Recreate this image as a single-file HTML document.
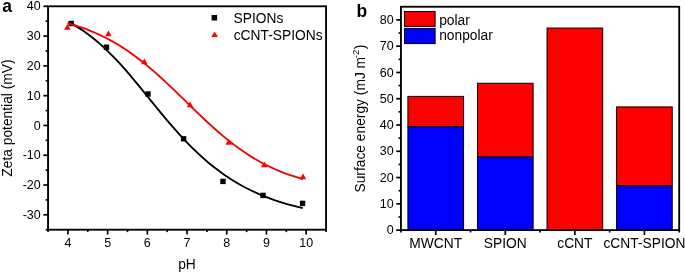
<!DOCTYPE html><html><head><meta charset="utf-8"><style>html,body{margin:0;padding:0;background:#fff;width:685px;height:273px;overflow:hidden}svg{display:block;will-change:transform}text{font-family:"Liberation Sans",sans-serif;fill:#000}</style></head><body>
<svg width="685" height="273" viewBox="0 0 685 273">
<text transform="translate(2.30,11.50) scale(1,1.04)" font-size="17.5" font-weight="bold">a</text>
<line x1="45.65" y1="229.70" x2="48.05" y2="229.70" stroke="#000" stroke-width="1.7"/>
<line x1="43.35" y1="214.81" x2="48.05" y2="214.81" stroke="#000" stroke-width="1.7"/>
<text transform="translate(40.70,218.91) scale(1,1.04)" font-size="12.5" text-anchor="end">-30</text>
<line x1="45.65" y1="199.91" x2="48.05" y2="199.91" stroke="#000" stroke-width="1.7"/>
<line x1="43.35" y1="185.02" x2="48.05" y2="185.02" stroke="#000" stroke-width="1.7"/>
<text transform="translate(40.70,189.12) scale(1,1.04)" font-size="12.5" text-anchor="end">-20</text>
<line x1="45.65" y1="170.13" x2="48.05" y2="170.13" stroke="#000" stroke-width="1.7"/>
<line x1="43.35" y1="155.23" x2="48.05" y2="155.23" stroke="#000" stroke-width="1.7"/>
<text transform="translate(40.70,159.33) scale(1,1.04)" font-size="12.5" text-anchor="end">-10</text>
<line x1="45.65" y1="140.34" x2="48.05" y2="140.34" stroke="#000" stroke-width="1.7"/>
<line x1="43.35" y1="125.45" x2="48.05" y2="125.45" stroke="#000" stroke-width="1.7"/>
<text transform="translate(40.70,129.55) scale(1,1.04)" font-size="12.5" text-anchor="end">0</text>
<line x1="45.65" y1="110.55" x2="48.05" y2="110.55" stroke="#000" stroke-width="1.7"/>
<line x1="43.35" y1="95.66" x2="48.05" y2="95.66" stroke="#000" stroke-width="1.7"/>
<text transform="translate(40.70,99.76) scale(1,1.04)" font-size="12.5" text-anchor="end">10</text>
<line x1="45.65" y1="80.77" x2="48.05" y2="80.77" stroke="#000" stroke-width="1.7"/>
<line x1="43.35" y1="65.87" x2="48.05" y2="65.87" stroke="#000" stroke-width="1.7"/>
<text transform="translate(40.70,69.97) scale(1,1.04)" font-size="12.5" text-anchor="end">20</text>
<line x1="45.65" y1="50.98" x2="48.05" y2="50.98" stroke="#000" stroke-width="1.7"/>
<line x1="43.35" y1="36.09" x2="48.05" y2="36.09" stroke="#000" stroke-width="1.7"/>
<text transform="translate(40.70,40.19) scale(1,1.04)" font-size="12.5" text-anchor="end">30</text>
<line x1="45.65" y1="21.19" x2="48.05" y2="21.19" stroke="#000" stroke-width="1.7"/>
<line x1="43.35" y1="6.30" x2="48.05" y2="6.30" stroke="#000" stroke-width="1.7"/>
<text transform="translate(40.70,10.40) scale(1,1.04)" font-size="12.5" text-anchor="end">40</text>
<line x1="48.05" y1="229.7" x2="48.05" y2="232.1" stroke="#000" stroke-width="1.7"/>
<line x1="67.91" y1="229.7" x2="67.91" y2="234.6" stroke="#000" stroke-width="1.7"/>
<text transform="translate(67.91,246.60) scale(1,1.04)" font-size="12.5" text-anchor="middle">4</text>
<line x1="87.76" y1="229.7" x2="87.76" y2="232.1" stroke="#000" stroke-width="1.7"/>
<line x1="107.62" y1="229.7" x2="107.62" y2="234.6" stroke="#000" stroke-width="1.7"/>
<text transform="translate(107.62,246.60) scale(1,1.04)" font-size="12.5" text-anchor="middle">5</text>
<line x1="127.48" y1="229.7" x2="127.48" y2="232.1" stroke="#000" stroke-width="1.7"/>
<line x1="147.34" y1="229.7" x2="147.34" y2="234.6" stroke="#000" stroke-width="1.7"/>
<text transform="translate(147.34,246.60) scale(1,1.04)" font-size="12.5" text-anchor="middle">6</text>
<line x1="167.19" y1="229.7" x2="167.19" y2="232.1" stroke="#000" stroke-width="1.7"/>
<line x1="187.05" y1="229.7" x2="187.05" y2="234.6" stroke="#000" stroke-width="1.7"/>
<text transform="translate(187.05,246.60) scale(1,1.04)" font-size="12.5" text-anchor="middle">7</text>
<line x1="206.91" y1="229.7" x2="206.91" y2="232.1" stroke="#000" stroke-width="1.7"/>
<line x1="226.76" y1="229.7" x2="226.76" y2="234.6" stroke="#000" stroke-width="1.7"/>
<text transform="translate(226.76,246.60) scale(1,1.04)" font-size="12.5" text-anchor="middle">8</text>
<line x1="246.62" y1="229.7" x2="246.62" y2="232.1" stroke="#000" stroke-width="1.7"/>
<line x1="266.48" y1="229.7" x2="266.48" y2="234.6" stroke="#000" stroke-width="1.7"/>
<text transform="translate(266.48,246.60) scale(1,1.04)" font-size="12.5" text-anchor="middle">9</text>
<line x1="286.34" y1="229.7" x2="286.34" y2="232.1" stroke="#000" stroke-width="1.7"/>
<line x1="306.19" y1="229.7" x2="306.19" y2="234.6" stroke="#000" stroke-width="1.7"/>
<text transform="translate(306.19,246.60) scale(1,1.04)" font-size="12.5" text-anchor="middle">10</text>
<line x1="326.05" y1="229.7" x2="326.05" y2="232.1" stroke="#000" stroke-width="1.7"/>
<rect x="48.05" y="6.3" width="278.0" height="223.39999999999998" fill="none" stroke="#000" stroke-width="1.85"/>
<path d="M68.80,22.22 L72.77,24.36 L76.73,26.66 L80.70,29.14 L84.66,31.81 L88.63,34.66 L92.60,37.71 L96.56,40.95 L100.53,44.38 L104.49,48.00 L108.46,51.80 L112.43,55.78 L116.39,59.92 L120.36,64.22 L124.33,68.66 L128.29,73.22 L132.26,77.89 L136.22,82.64 L140.19,87.46 L144.16,92.32 L148.12,97.21 L152.09,102.10 L156.05,106.97 L160.02,111.81 L163.99,116.59 L167.95,121.30 L171.92,125.92 L175.88,130.44 L179.85,134.85 L183.82,139.13 L187.78,143.28 L191.75,147.30 L195.72,151.17 L199.68,154.90 L203.65,158.48 L207.61,161.92 L211.58,165.20 L215.55,168.34 L219.51,171.33 L223.48,174.19 L227.44,176.90 L231.41,179.48 L235.38,181.93 L239.34,184.26 L243.31,186.46 L247.27,188.55 L251.24,190.53 L255.21,192.39 L259.17,194.16 L263.14,195.83 L267.11,197.41 L271.07,198.90 L275.04,200.30 L279.00,201.63 L282.97,202.88 L286.94,204.05 L290.90,205.17 L294.87,206.21 L298.83,207.20 L302.80,208.13" fill="none" stroke="#000" stroke-width="1.85"/>
<rect x="68.50" y="20.80" width="5.4" height="5.4" fill="#000"/>
<rect x="103.80" y="44.50" width="5.4" height="5.4" fill="#000"/>
<rect x="145.30" y="91.30" width="5.4" height="5.4" fill="#000"/>
<rect x="180.90" y="136.10" width="5.4" height="5.4" fill="#000"/>
<rect x="220.30" y="178.70" width="5.4" height="5.4" fill="#000"/>
<rect x="260.30" y="192.70" width="5.4" height="5.4" fill="#000"/>
<rect x="299.90" y="200.70" width="5.4" height="5.4" fill="#000"/>
<path d="M67.60,23.16 L71.59,24.30 L75.58,25.52 L79.57,26.82 L83.56,28.22 L87.55,29.71 L91.54,31.30 L95.53,32.99 L99.52,34.80 L103.51,36.72 L107.50,38.75 L111.49,40.90 L115.48,43.18 L119.47,45.58 L123.46,48.10 L127.45,50.75 L131.44,53.53 L135.43,56.43 L139.42,59.45 L143.41,62.59 L147.40,65.85 L151.39,69.21 L155.38,72.67 L159.37,76.23 L163.36,79.87 L167.35,83.58 L171.34,87.36 L175.33,91.18 L179.32,95.05 L183.31,98.93 L187.29,102.83 L191.28,106.72 L195.27,110.59 L199.26,114.43 L203.25,118.23 L207.24,121.96 L211.23,125.63 L215.22,129.22 L219.21,132.71 L223.20,136.11 L227.19,139.40 L231.18,142.57 L235.17,145.63 L239.16,148.56 L243.15,151.36 L247.14,154.04 L251.13,156.59 L255.12,159.01 L259.11,161.30 L263.10,163.47 L267.09,165.51 L271.08,167.44 L275.07,169.24 L279.06,170.94 L283.05,172.52 L287.04,174.01 L291.03,175.39 L295.02,176.68 L299.01,177.88 L303.00,179.00" fill="none" stroke="#f00000" stroke-width="1.85"/>
<path d="M67.40,23.90 L70.70,29.70 L64.10,29.70 Z" fill="#ff0000"/>
<path d="M108.40,30.50 L111.70,36.30 L105.10,36.30 Z" fill="#ff0000"/>
<path d="M144.30,58.50 L147.60,64.30 L141.00,64.30 Z" fill="#ff0000"/>
<path d="M190.00,101.50 L193.30,107.30 L186.70,107.30 Z" fill="#ff0000"/>
<path d="M228.70,138.90 L232.00,144.70 L225.40,144.70 Z" fill="#ff0000"/>
<path d="M264.30,161.50 L267.60,167.30 L261.00,167.30 Z" fill="#ff0000"/>
<path d="M303.00,173.50 L306.30,179.30 L299.70,179.30 Z" fill="#ff0000"/>
<rect x="211.6" y="15.0" width="5.5" height="5.5" fill="#000"/>
<path d="M214.6,31.5 L218,37 L211.2,37 Z" fill="#ff0000"/>
<text transform="translate(233.50,22.50) scale(1,1.04)" font-size="13.8">SPIONs</text>
<text transform="translate(233.70,40.20) scale(1,1.04)" font-size="13.8">cCNT-SPIONs</text>
<text transform="translate(187.00,268.70) scale(1,1.04)" font-size="13.8" text-anchor="middle">pH</text>
<text transform="translate(12.0,118.05) rotate(-90) scale(1,1.04)" font-size="13.8" text-anchor="middle">Zeta potential (mV)</text>
<text transform="translate(356.50,17.30) scale(1,1.04)" font-size="17.5" font-weight="bold">b</text>
<line x1="396.25" y1="230.10" x2="400.95" y2="230.10" stroke="#000" stroke-width="1.7"/>
<text transform="translate(393.60,234.20) scale(1,1.04)" font-size="12.5" text-anchor="end">0</text>
<line x1="398.55" y1="216.96" x2="400.95" y2="216.96" stroke="#000" stroke-width="1.7"/>
<line x1="396.25" y1="203.82" x2="400.95" y2="203.82" stroke="#000" stroke-width="1.7"/>
<text transform="translate(393.60,207.92) scale(1,1.04)" font-size="12.5" text-anchor="end">10</text>
<line x1="398.55" y1="190.69" x2="400.95" y2="190.69" stroke="#000" stroke-width="1.7"/>
<line x1="396.25" y1="177.55" x2="400.95" y2="177.55" stroke="#000" stroke-width="1.7"/>
<text transform="translate(393.60,181.65) scale(1,1.04)" font-size="12.5" text-anchor="end">20</text>
<line x1="398.55" y1="164.41" x2="400.95" y2="164.41" stroke="#000" stroke-width="1.7"/>
<line x1="396.25" y1="151.27" x2="400.95" y2="151.27" stroke="#000" stroke-width="1.7"/>
<text transform="translate(393.60,155.37) scale(1,1.04)" font-size="12.5" text-anchor="end">30</text>
<line x1="398.55" y1="138.13" x2="400.95" y2="138.13" stroke="#000" stroke-width="1.7"/>
<line x1="396.25" y1="124.99" x2="400.95" y2="124.99" stroke="#000" stroke-width="1.7"/>
<text transform="translate(393.60,129.09) scale(1,1.04)" font-size="12.5" text-anchor="end">40</text>
<line x1="398.55" y1="111.86" x2="400.95" y2="111.86" stroke="#000" stroke-width="1.7"/>
<line x1="396.25" y1="98.72" x2="400.95" y2="98.72" stroke="#000" stroke-width="1.7"/>
<text transform="translate(393.60,102.82) scale(1,1.04)" font-size="12.5" text-anchor="end">50</text>
<line x1="398.55" y1="85.58" x2="400.95" y2="85.58" stroke="#000" stroke-width="1.7"/>
<line x1="396.25" y1="72.44" x2="400.95" y2="72.44" stroke="#000" stroke-width="1.7"/>
<text transform="translate(393.60,76.54) scale(1,1.04)" font-size="12.5" text-anchor="end">60</text>
<line x1="398.55" y1="59.30" x2="400.95" y2="59.30" stroke="#000" stroke-width="1.7"/>
<line x1="396.25" y1="46.16" x2="400.95" y2="46.16" stroke="#000" stroke-width="1.7"/>
<text transform="translate(393.60,50.26) scale(1,1.04)" font-size="12.5" text-anchor="end">70</text>
<line x1="398.55" y1="33.03" x2="400.95" y2="33.03" stroke="#000" stroke-width="1.7"/>
<line x1="396.25" y1="19.89" x2="400.95" y2="19.89" stroke="#000" stroke-width="1.7"/>
<text transform="translate(393.60,23.99) scale(1,1.04)" font-size="12.5" text-anchor="end">80</text>
<line x1="400.95" y1="230.1" x2="400.95" y2="232.5" stroke="#000" stroke-width="1.7"/>
<line x1="435.73" y1="230.1" x2="435.73" y2="235.0" stroke="#000" stroke-width="1.7"/>
<line x1="470.51" y1="230.1" x2="470.51" y2="232.5" stroke="#000" stroke-width="1.7"/>
<line x1="505.29" y1="230.1" x2="505.29" y2="235.0" stroke="#000" stroke-width="1.7"/>
<line x1="540.08" y1="230.1" x2="540.08" y2="232.5" stroke="#000" stroke-width="1.7"/>
<line x1="574.86" y1="230.1" x2="574.86" y2="235.0" stroke="#000" stroke-width="1.7"/>
<line x1="609.64" y1="230.1" x2="609.64" y2="232.5" stroke="#000" stroke-width="1.7"/>
<line x1="644.42" y1="230.1" x2="644.42" y2="235.0" stroke="#000" stroke-width="1.7"/>
<line x1="679.20" y1="230.1" x2="679.20" y2="232.5" stroke="#000" stroke-width="1.7"/>
<rect x="407.91" y="126.61" width="55.65" height="103.79" fill="#0000ff" stroke="#000" stroke-width="1"/>
<rect x="407.91" y="96.39" width="55.65" height="30.22" fill="#ff0000" stroke="#000" stroke-width="1"/>
<text transform="translate(435.73,247.60) scale(1,1.04)" font-size="13.8" text-anchor="middle">MWCNT</text>
<rect x="477.47" y="156.83" width="55.65" height="73.57" fill="#0000ff" stroke="#000" stroke-width="1"/>
<rect x="477.47" y="83.25" width="55.65" height="73.57" fill="#ff0000" stroke="#000" stroke-width="1"/>
<text transform="translate(505.29,247.60) scale(1,1.04)" font-size="13.8" text-anchor="middle">SPION</text>
<rect x="547.03" y="28.07" width="55.65" height="202.33" fill="#ff0000" stroke="#000" stroke-width="1"/>
<text transform="translate(574.86,247.60) scale(1,1.04)" font-size="13.8" text-anchor="middle">cCNT</text>
<rect x="616.59" y="185.73" width="55.65" height="44.67" fill="#0000ff" stroke="#000" stroke-width="1"/>
<rect x="616.59" y="106.90" width="55.65" height="78.83" fill="#ff0000" stroke="#000" stroke-width="1"/>
<text transform="translate(644.42,247.60) scale(1,1.04)" font-size="13.8" text-anchor="middle">cCNT-SPION</text>
<rect x="400.95" y="6.75" width="278.25000000000006" height="223.35" fill="none" stroke="#000" stroke-width="1.85"/>
<rect x="404.5" y="11.5" width="30.6" height="14.9" fill="#ff0000" stroke="#000" stroke-width="1"/>
<rect x="404.5" y="28.4" width="30.6" height="15.2" fill="#0000ff" stroke="#000" stroke-width="1"/>
<text transform="translate(439.20,24.70) scale(1,1.04)" font-size="13.8">polar</text>
<text transform="translate(439.20,40.10) scale(1,1.04)" font-size="13.8">nonpolar</text>
<text transform="translate(365,192.5) rotate(-90) scale(1,1.04)" font-size="13.8">Surface energy (mJ m<tspan font-size="9.5" dy="-5.5" dx="-1.3">-2</tspan><tspan dy="5.5" dx="0.6">)</tspan></text>
</svg></body></html>
